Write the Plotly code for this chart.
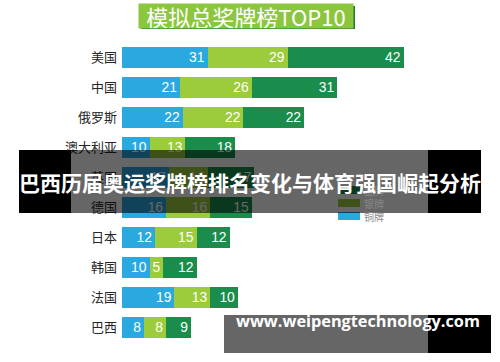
import plotly.graph_objects as go

# ---- data ----
countries = ["美国", "中国", "俄罗斯", "澳大利亚", "英国", "德国", "日本", "韩国", "法国", "巴西"]
bronze = [31, 21, 22, 10, 17, 16, 12, 10, 19, 8]
silver = [29, 26, 22, 13, 14, 16, 15, 5, 13, 8]
gold = [42, 31, 22, 18, 17, 15, 12, 12, 10, 9]
series_names = ["铜牌", "银牌", "金牌"]
title_text = "模拟总奖牌榜TOP10"
banner_text = "巴西历届奥运奖牌榜排名变化与体育强国崛起分析"
watermark_text = "www.weipengtechnology.com"

W, H = 500, 362
L, R, T, B = 122, 20, 42, 20
PW, PH = W - L - R, H - T - B


def px(x):
    return (x - L) / PW


def py(y):
    return (H - B - y) / PH


colors = ["#2aa8e0", "#9ccb3c", "#1a8d4c"]
fig = go.Figure()
for name, vals, col in zip(series_names, [bronze, silver, gold], colors):
    fig.add_trace(go.Bar(
        y=countries, x=vals, orientation="h", name=name,
        marker=dict(color=col, line=dict(width=0)),
        text=[str(v) for v in vals], textposition="inside",
        insidetextanchor="end", textangle=0,
        textfont=dict(color="white", size=16, family="Liberation Sans"),
        showlegend=False,
    ))

shapes = []
annotations = []

# title box with shadow
shapes.append(dict(type="rect", xref="paper", yref="paper",
                   x0=px(141), x1=px(355), y0=py(6), y1=py(29),
                   fillcolor="#1f7a35", line=dict(width=0), layer="above"))
annotations.append(dict(xref="paper", yref="paper", x=px(138), y=py(3),
                        xanchor="left", yanchor="top",
                        width=214, height=24, bgcolor="#8cc63e", borderpad=0,
                        text=title_text, showarrow=False, align="center",
                        font=dict(color="white", size=22, family="Noto Sans CJK SC")))

# custom legend (gold, silver, bronze from top)
leg_y = [190, 203, 216]
for name, col, yc in zip(series_names[::-1], colors[::-1], leg_y):
    shapes.append(dict(type="rect", xref="paper", yref="paper",
                       x0=px(338), x1=px(360), y0=py(yc + 4), y1=py(yc - 4),
                       fillcolor=col, line=dict(width=0), layer="above"))
    annotations.append(dict(xref="paper", yref="paper", x=px(362), y=py(yc),
                            xanchor="left", text=name, showarrow=False,
                            font=dict(color="#888888", size=10, family="Noto Sans CJK SC")))

# banner overlay
shapes.append(dict(type="rect", xref="paper", yref="paper",
                   x0=px(19), x1=px(71), y0=py(213), y1=py(150),
                   fillcolor="black", line=dict(width=0), layer="above"))
shapes.append(dict(type="rect", xref="paper", yref="paper",
                   x0=px(428), x1=px(481), y0=py(213), y1=py(150),
                   fillcolor="black", line=dict(width=0), layer="above"))
shapes.append(dict(type="rect", xref="paper", yref="paper",
                   x0=px(71), x1=px(428), y0=py(213), y1=py(150),
                   fillcolor="rgba(0,0,0,0.6)", line=dict(width=0), layer="above"))
annotations.append(dict(xref="paper", yref="paper", x=px(250), y=py(182),
                        text="<b>" + banner_text + "</b>", showarrow=False,
                        font=dict(color="white", size=21, family="Noto Sans CJK SC")))

# watermark overlay
shapes.append(dict(type="rect", xref="paper", yref="paper",
                   x0=px(224), x1=px(428), y0=py(353), y1=py(315),
                   fillcolor="rgba(0,0,0,0.6)", line=dict(width=0), layer="above"))
shapes.append(dict(type="rect", xref="paper", yref="paper",
                   x0=px(428), x1=px(491), y0=py(353), y1=py(315),
                   fillcolor="black", line=dict(width=0), layer="above"))
annotations.append(dict(xref="paper", yref="paper", x=px(234), y=py(334),
                        xanchor="left", text="<b>" + watermark_text + "</b>",
                        showarrow=False,
                        font=dict(color="white", size=16.3, family="Open Sans")))

fig.update_layout(
    width=W, height=H, margin=dict(l=L, r=R, t=T, b=B),
    barmode="stack", bargap=0.3,
    paper_bgcolor="white", plot_bgcolor="white",
    xaxis=dict(range=[0, PW / 2.76], visible=False, fixedrange=True),
    yaxis=dict(categoryorder="array", categoryarray=countries, autorange="reversed",
               showgrid=False, showline=False, ticks="", ticklabelstandoff=4,
               fixedrange=True,
               tickfont=dict(size=13, color="#262626", family="Noto Sans CJK SC")),
    shapes=shapes, annotations=annotations,
    uniformtext=dict(minsize=10, mode="show"),
    hovermode=False,
)

fig.write_html("out.html", config={"displayModeBar": False, "staticPlot": True},
               post_script="document.body.style.margin='0';document.body.style.overflow='hidden';")
